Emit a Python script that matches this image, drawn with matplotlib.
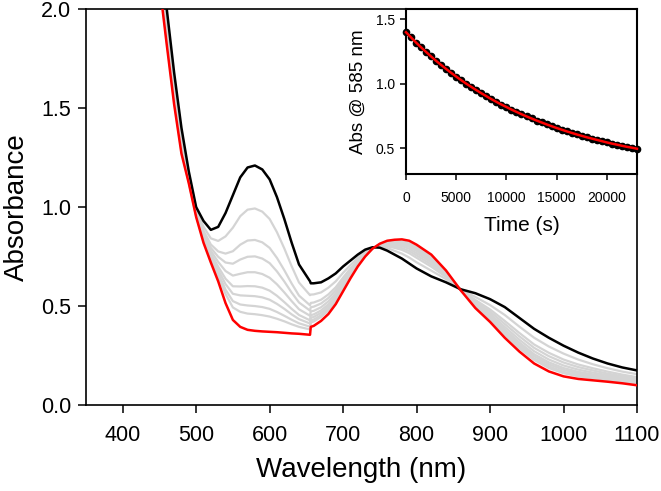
import matplotlib
matplotlib.use("Agg")
import matplotlib.pyplot as plt
from matplotlib.ticker import FormatStrFormatter

plt.rcParams['font.family'] = ['Liberation Sans', 'DejaVu Sans']

# wavelength grid (nm), with the detector change near 655 nm
wavelength = [450, 460, 470, 480, 490, 500, 510, 520, 530, 540, 550, 560, 570, 580, 590,
              600, 610, 620, 630, 640, 655, 656, 660, 670, 680, 690, 700, 710, 720, 730,
              740, 750, 760, 770, 780, 790, 800, 820, 840, 860, 880, 900, 920, 940, 960,
              980, 1000, 1020, 1040, 1060, 1080, 1100]

# first spectrum (black)
abs_start = [2.35, 2.00, 1.68, 1.40, 1.18, 1.00, 0.93, 0.885, 0.90, 0.97, 1.06, 1.15, 1.20, 1.21, 1.19,
             1.14, 1.05, 0.94, 0.82, 0.71, 0.625, 0.615, 0.615, 0.62, 0.64, 0.665, 0.70, 0.73, 0.76, 0.785,
             0.797, 0.795, 0.78, 0.76, 0.74, 0.715, 0.69, 0.65, 0.62, 0.585, 0.565, 0.535, 0.495, 0.44, 0.385,
             0.34, 0.30, 0.265, 0.235, 0.21, 0.19, 0.175]

# last spectrum (red)
abs_end = [2.13, 1.82, 1.52, 1.27, 1.12, 0.95, 0.82, 0.72, 0.625, 0.515, 0.43, 0.395, 0.38, 0.375, 0.372,
           0.37, 0.368, 0.365, 0.362, 0.36, 0.355, 0.395, 0.40, 0.425, 0.46, 0.51, 0.575, 0.64, 0.70, 0.75,
           0.79, 0.815, 0.83, 0.835, 0.837, 0.83, 0.81, 0.76, 0.68, 0.58, 0.49, 0.42, 0.34, 0.27, 0.21,
           0.17, 0.145, 0.132, 0.125, 0.118, 0.11, 0.10]

# intermediate spectra (grey)
gray1 = [2.293, 1.953, 1.638, 1.366, 1.164, 0.987, 0.901, 0.842, 0.829, 0.852, 0.896, 0.954, 0.987, 0.993, 0.977,
         0.940, 0.873, 0.791, 0.701, 0.619, 0.555, 0.558, 0.559, 0.569, 0.593, 0.625, 0.668, 0.707, 0.744, 0.776,
         0.795, 0.800, 0.793, 0.779, 0.765, 0.745, 0.721, 0.679, 0.636, 0.584, 0.546, 0.505, 0.455, 0.396, 0.340,
         0.296, 0.260, 0.230, 0.206, 0.186, 0.169, 0.156]
gray2 = [2.251, 1.919, 1.608, 1.342, 1.153, 0.978, 0.881, 0.811, 0.776, 0.765, 0.777, 0.810, 0.831, 0.834, 0.822,
         0.794, 0.743, 0.681, 0.614, 0.553, 0.504, 0.516, 0.518, 0.532, 0.559, 0.595, 0.644, 0.690, 0.733, 0.769,
         0.794, 0.804, 0.802, 0.794, 0.784, 0.767, 0.744, 0.699, 0.647, 0.583, 0.531, 0.483, 0.425, 0.364, 0.306,
         0.264, 0.230, 0.205, 0.186, 0.169, 0.154, 0.141]
gray3 = [2.229, 1.901, 1.592, 1.329, 1.147, 0.973, 0.870, 0.794, 0.749, 0.720, 0.714, 0.735, 0.749, 0.751, 0.740,
         0.717, 0.675, 0.624, 0.568, 0.518, 0.477, 0.494, 0.497, 0.513, 0.541, 0.580, 0.631, 0.681, 0.727, 0.766,
         0.793, 0.806, 0.807, 0.801, 0.793, 0.778, 0.756, 0.710, 0.653, 0.582, 0.524, 0.472, 0.410, 0.347, 0.289,
         0.247, 0.215, 0.192, 0.175, 0.159, 0.146, 0.134]
gray4 = [2.208, 1.884, 1.577, 1.316, 1.141, 0.968, 0.859, 0.779, 0.723, 0.677, 0.654, 0.663, 0.671, 0.671, 0.662,
         0.643, 0.610, 0.569, 0.525, 0.484, 0.451, 0.473, 0.476, 0.494, 0.524, 0.565, 0.619, 0.672, 0.721, 0.762,
         0.792, 0.808, 0.812, 0.808, 0.803, 0.789, 0.767, 0.721, 0.659, 0.582, 0.517, 0.461, 0.395, 0.330, 0.272,
         0.230, 0.200, 0.179, 0.164, 0.151, 0.138, 0.127]
gray5 = [2.189, 1.869, 1.563, 1.305, 1.136, 0.964, 0.850, 0.765, 0.699, 0.638, 0.600, 0.599, 0.601, 0.600, 0.593,
         0.578, 0.552, 0.520, 0.486, 0.455, 0.428, 0.454, 0.458, 0.478, 0.509, 0.552, 0.609, 0.664, 0.716, 0.759,
         0.792, 0.810, 0.816, 0.815, 0.811, 0.799, 0.778, 0.730, 0.664, 0.581, 0.510, 0.451, 0.382, 0.316, 0.257,
         0.216, 0.187, 0.168, 0.155, 0.143, 0.132, 0.120]
gray6 = [2.176, 1.858, 1.554, 1.297, 1.133, 0.961, 0.843, 0.755, 0.683, 0.611, 0.562, 0.554, 0.552, 0.550, 0.544,
         0.532, 0.511, 0.486, 0.458, 0.434, 0.412, 0.441, 0.445, 0.466, 0.498, 0.543, 0.601, 0.659, 0.713, 0.757,
         0.791, 0.811, 0.819, 0.819, 0.817, 0.806, 0.785, 0.737, 0.667, 0.581, 0.506, 0.444, 0.373, 0.306, 0.247,
         0.206, 0.178, 0.160, 0.148, 0.137, 0.127, 0.116]
gray7 = [2.163, 1.847, 1.544, 1.290, 1.129, 0.958, 0.837, 0.745, 0.666, 0.583, 0.525, 0.508, 0.503, 0.500, 0.495,
         0.486, 0.470, 0.451, 0.431, 0.413, 0.396, 0.428, 0.432, 0.454, 0.487, 0.533, 0.594, 0.654, 0.709, 0.755,
         0.791, 0.812, 0.822, 0.824, 0.822, 0.813, 0.792, 0.743, 0.671, 0.581, 0.501, 0.437, 0.363, 0.296, 0.236,
         0.196, 0.168, 0.152, 0.142, 0.132, 0.122, 0.111]
gray8 = [2.152, 1.838, 1.536, 1.283, 1.126, 0.955, 0.831, 0.737, 0.653, 0.561, 0.493, 0.471, 0.462, 0.459, 0.454,
         0.447, 0.436, 0.423, 0.408, 0.395, 0.382, 0.417, 0.422, 0.445, 0.478, 0.526, 0.588, 0.649, 0.706, 0.754,
         0.791, 0.813, 0.825, 0.827, 0.827, 0.818, 0.798, 0.749, 0.674, 0.581, 0.498, 0.432, 0.356, 0.287, 0.228,
         0.187, 0.161, 0.145, 0.136, 0.127, 0.118, 0.108]
gray_spectra = [gray1, gray2, gray3, gray4, gray5, gray6, gray7, gray8]

# kinetics at 585 nm (inset)
time_s = [0, 500, 1000, 1500, 2000, 2500, 3000, 3500, 4000, 4500, 5000, 5500, 6000, 6500, 7000, 7500,
          8000, 8500, 9000, 9500, 10000, 10500, 11000, 11500, 12000, 12500, 13000, 13500, 14000, 14500,
          15000, 15500, 16000, 16500, 17000, 17500, 18000, 18500, 19000, 19500, 20000, 20500, 21000,
          21500, 22000, 22500, 23000]
abs_585 = [1.400, 1.360, 1.320, 1.283, 1.247, 1.212, 1.178, 1.146, 1.115, 1.085, 1.056, 1.028, 1.001,
           0.976, 0.951, 0.927, 0.904, 0.881, 0.860, 0.839, 0.820, 0.800, 0.782, 0.764, 0.747, 0.731,
           0.715, 0.700, 0.685, 0.671, 0.657, 0.644, 0.631, 0.619, 0.607, 0.596, 0.585, 0.575, 0.565,
           0.555, 0.545, 0.536, 0.528, 0.519, 0.511, 0.504, 0.496]

fig = plt.figure(figsize=(6.61, 4.91), dpi=100)
ax = fig.add_axes([0.130, 0.175, 0.8337, 0.8065])

for g in gray_spectra:
    ax.plot(wavelength, g, color='#d4d4d4', lw=1.6, zorder=1)
ax.plot(wavelength, abs_start, color='black', lw=1.8, zorder=3)
ax.plot(wavelength, abs_end, color='#ff0000', lw=1.8, zorder=4)

ax.set_xlim(350, 1100)
ax.set_ylim(0, 2.0)
ax.set_xticks([400, 500, 600, 700, 800, 900, 1000, 1100])
ax.set_yticks([0.0, 0.5, 1.0, 1.5, 2.0])
ax.yaxis.set_major_formatter(FormatStrFormatter('%.1f'))
ax.tick_params(direction='out', length=5.5, width=1.1, labelsize=15.5, pad=5)
ax.tick_params(axis='x', pad=9)
for s in ax.spines.values():
    s.set_linewidth(1.2)
ax.set_xlabel('Wavelength (nm)', fontsize=20, labelpad=8)
ax.set_ylabel('Absorbance', fontsize=20, labelpad=8)

# inset
ins = fig.add_axes([0.6142, 0.6456, 0.3495, 0.336])
ins.plot(time_s, abs_585, 'o', color='black', ms=4.5, zorder=2, clip_on=False)
ins.plot(time_s, abs_585, color='#ff0000', lw=1.8, zorder=3, clip_on=False)
ins.set_xlim(0, 23000)
ins.set_ylim(0.3, 1.58)
ins.set_xticks([0, 5000, 10000, 15000, 20000])
ins.set_yticks([0.5, 1.0, 1.5])
ins.yaxis.set_major_formatter(FormatStrFormatter('%.1f'))
ins.tick_params(direction='out', length=4, width=1.1, labelsize=10, pad=4)
ins.tick_params(axis='x', pad=8)
for s in ins.spines.values():
    s.set_linewidth(1.5)
ins.set_xlabel('Time (s)', fontsize=15, labelpad=8)
ins.set_ylabel('Abs @ 585 nm', fontsize=13.5, labelpad=6)

fig.savefig('out.png', dpi=100)
